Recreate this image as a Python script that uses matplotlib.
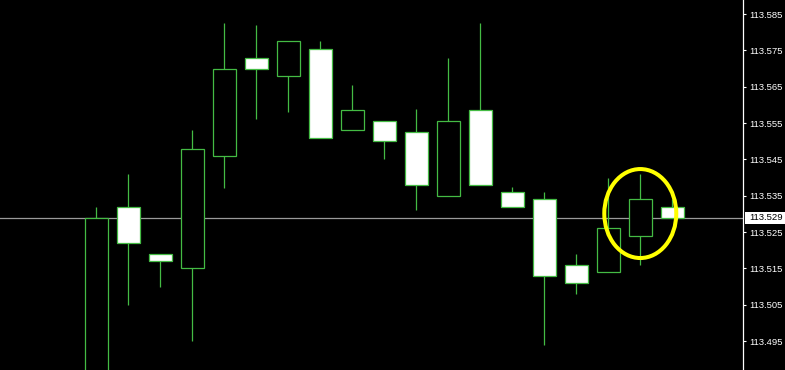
import matplotlib
matplotlib.use('Agg')
import matplotlib.pyplot as plt
import matplotlib.transforms as mtransforms
from matplotlib.patches import Ellipse, Rectangle

# OHLC (one bar per column, left to right)
opens = [113.480, 113.532, 113.519, 113.515, 113.546, 113.573, 113.568, 113.5755, 113.553, 113.5555,
         113.5525, 113.535, 113.5585, 113.536, 113.534, 113.516, 113.514, 113.524, 113.532]
highs = [113.532, 113.541, 113.519, 113.553, 113.5825, 113.582, 113.5775, 113.5775, 113.5655, 113.5555,
         113.559, 113.573, 113.5825, 113.5375, 113.536, 113.519, 113.540, 113.541, 113.534]
lows = [113.470, 113.505, 113.510, 113.495, 113.537, 113.556, 113.558, 113.551, 113.553, 113.545,
        113.531, 113.535, 113.538, 113.532, 113.494, 113.508, 113.514, 113.516, 113.529]
closes = [113.529, 113.522, 113.517, 113.548, 113.570, 113.570, 113.5775, 113.551, 113.5585, 113.550,
          113.538, 113.5555, 113.538, 113.532, 113.513, 113.511, 113.526, 113.534, 113.529]

price_ticks = [113.495, 113.505, 113.515, 113.525, 113.535, 113.545, 113.555, 113.565, 113.575, 113.585]
last_price = 113.529
marked_bar = 17

green = '#44bb44'

fig = plt.figure(figsize=(7.85, 3.7), dpi=100, facecolor='black')
ax = fig.add_axes([0, 0, 743 / 785, 1])
ax.set_facecolor('black')

x = list(range(len(opens)))

# current price line, behind the candles
ax.axhline(last_price, color='#9a9a9a', lw=0.9, zorder=1)

# wicks
ax.vlines(x, lows, highs, color=green, lw=0.9, zorder=2)

# bodies: black for up bars, white for down bars
bottoms = [min(o, c) for o, c in zip(opens, closes)]
heights = [abs(c - o) for o, c in zip(opens, closes)]
fills = ['black' if c > o else 'white' for o, c in zip(opens, closes)]
ax.bar(x, heights, bottom=bottoms, width=0.72, color=fills,
       edgecolor=green, linewidth=0.9, zorder=3)

# yellow ring round one bar
ax.add_patch(Ellipse((marked_bar, 113.5301), width=2.25, height=0.0245,
                     fill=False, edgecolor='#ffff00', lw=2.9, zorder=5))

ax.set_xlim(-3.01, 20.21)
ax.set_ylim(113.48702, 113.5889)

for side in ['left', 'top', 'bottom']:
    ax.spines[side].set_visible(False)
ax.spines['right'].set_color('white')
ax.spines['right'].set_linewidth(0.9)

ax.set_xticks([])
ax.yaxis.tick_right()
ax.set_yticks(price_ticks)
ax.set_yticklabels(['%.3f' % v for v in price_ticks])
ax.tick_params(axis='y', colors='white', length=2.2, width=0.8, pad=2.3,
               labelsize=6.8, labelcolor='white')
for lbl in ax.get_yticklabels():
    lbl.set_fontfamily('Liberation Sans')

# last price box on the scale
trans = mtransforms.blended_transform_factory(ax.transAxes, ax.transData)
ax.add_patch(Rectangle((745 / 743, last_price - 0.00165), 40 / 743, 0.0033,
                       transform=trans, facecolor='white', edgecolor='none',
                       clip_on=False, zorder=6))
ax.text(749 / 743, last_price, '%.3f' % last_price, transform=trans,
        ha='left', va='center', fontsize=6.8, family='Liberation Sans',
        color='black', zorder=7, clip_on=False)

fig.savefig('out.png', dpi=100, facecolor='black')
